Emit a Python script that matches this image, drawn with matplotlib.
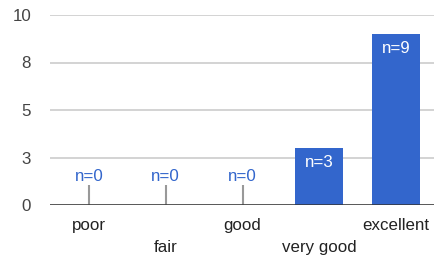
import matplotlib
matplotlib.use("Agg")
import matplotlib.pyplot as plt
import numpy as np

plt.rcParams['font.family'] = ['Liberation Sans', 'DejaVu Sans']

categories = ["poor", "fair", "good", "very good", "excellent"]
counts = [0, 0, 0, 3, 9]
ytick_vals = [0, 2.5, 5, 7.5, 10]
ytick_labels = ["0", "3", "5", "8", "10"]

blue = "#3366CC"
fs = 12.2

fig = plt.figure(figsize=(4.35, 2.56), dpi=100)
ax = fig.add_axes([50.5/435, (256-205)/256, 384/435, 190/256])

x = np.arange(len(categories))
ax.bar(x, counts, width=0.625, color=blue, zorder=3)

# value labels: above a small stem for empty bars, inside the bar otherwise
for xi, c in zip(x, counts):
    if c == 0:
        ax.plot([xi, xi], [0, 1.05], color="#999999", lw=1.5, zorder=4, solid_capstyle="butt")
        ax.annotate("n=0", xy=(xi, 1.05), xytext=(0, 1), textcoords="offset points",
                    ha="center", va="bottom", color=blue, fontsize=fs)
    else:
        ax.annotate("n=%d" % c, xy=(xi, c), xytext=(0, -5), textcoords="offset points",
                    ha="center", va="top", color="white", fontsize=fs)

ax.set_xlim(-0.5, len(categories) - 0.5)
ax.set_ylim(0, 10)
ax.set_yticks(ytick_vals)
ax.set_yticklabels(ytick_labels, color="#444444", fontsize=fs)
ax.tick_params(axis="y", length=0, pad=14)
ax.set_xticks([])
# staggered category labels
for xi, lab in zip(x, categories):
    off = -9.5 if xi % 2 == 0 else -25
    ax.annotate(lab, xy=(xi, 0), xytext=(0, off), textcoords="offset points",
                ha="center", va="top", color="#222222", fontsize=fs, annotation_clip=False)

ax.grid(axis="y", color="#cccccc", lw=1.2, zorder=0)
ax.axhline(0, color="#333333", lw=1.8, zorder=5)
for s in ax.spines.values():
    s.set_visible(False)

fig.savefig("out.png", dpi=100)
